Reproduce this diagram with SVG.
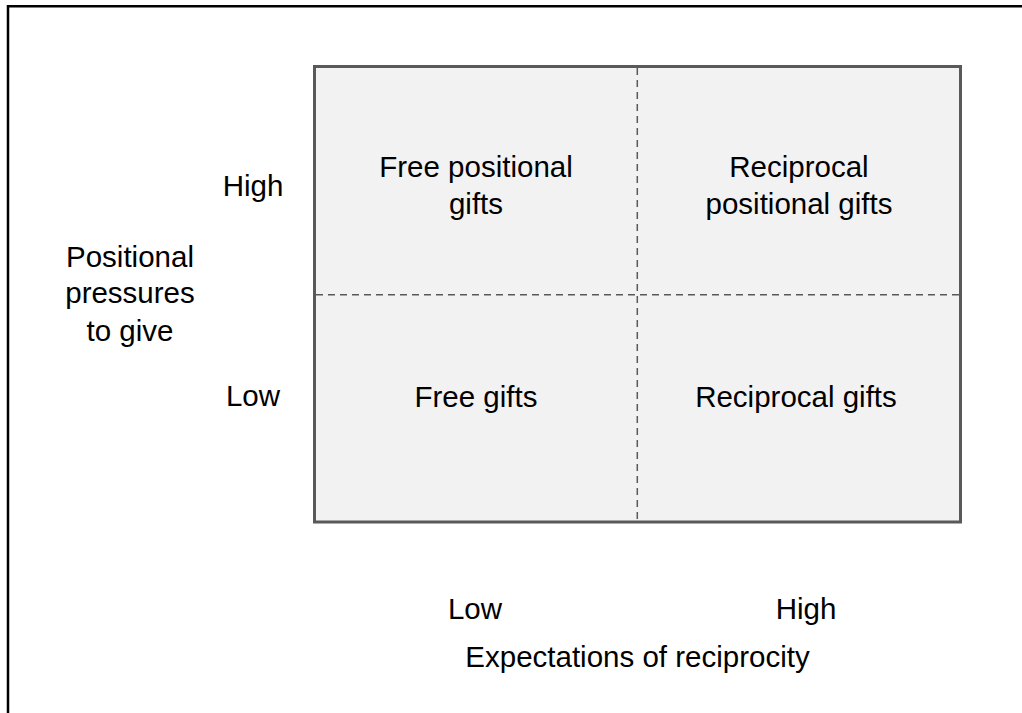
<svg xmlns="http://www.w3.org/2000/svg" width="1022" height="713" viewBox="0 0 1022 713">
  <style>
    .t { font-family: "Liberation Sans", Arial, sans-serif; font-size: 29.5px; fill: #000; text-anchor: middle; }
    .div { stroke: #595959; stroke-width: 1.5; stroke-dasharray: 7 5; fill: none; }
  </style>
  <rect width="1022" height="713" fill="#fff"/>
  <path d="M8,713 V6.2 H1022" fill="none" stroke="#000" stroke-width="2.5"/>

  <g id="matrix">
    <rect x="314.5" y="66.5" width="646" height="455.5" fill="#f2f2f2" stroke="#595959" stroke-width="3"/>
  </g>

  <g id="connectors">
    <line class="div" x1="637.3" y1="68" x2="637.3" y2="520.5"/>
    <line class="div" x1="316" y1="294.7" x2="959" y2="294.7"/>
  </g>

  <g id="q-free-positional">
    <text class="t" x="476" y="176.5">Free positional</text>
    <text class="t" x="476" y="213.5">gifts</text>
  </g>
  <g id="q-reciprocal-positional">
    <text class="t" x="799" y="176.5">Reciprocal</text>
    <text class="t" x="799" y="213.5">positional gifts</text>
  </g>
  <g id="q-free">
    <text class="t" x="476" y="407">Free gifts</text>
  </g>
  <g id="q-reciprocal">
    <text class="t" x="796" y="407">Reciprocal gifts</text>
  </g>

  <g id="y-high">
    <text class="t" x="253" y="196">High</text>
  </g>
  <g id="y-low">
    <text class="t" x="253" y="406">Low</text>
  </g>
  <g id="y-title">
    <text class="t" x="130" y="267">Positional</text>
    <text class="t" x="130" y="303">pressures</text>
    <text class="t" x="130" y="341">to give</text>
  </g>

  <g id="x-low">
    <text class="t" x="475" y="619">Low</text>
  </g>
  <g id="x-high">
    <text class="t" x="806" y="619">High</text>
  </g>
  <g id="x-title">
    <text class="t" x="637.5" y="667">Expectations of reciprocity</text>
  </g>
</svg>
